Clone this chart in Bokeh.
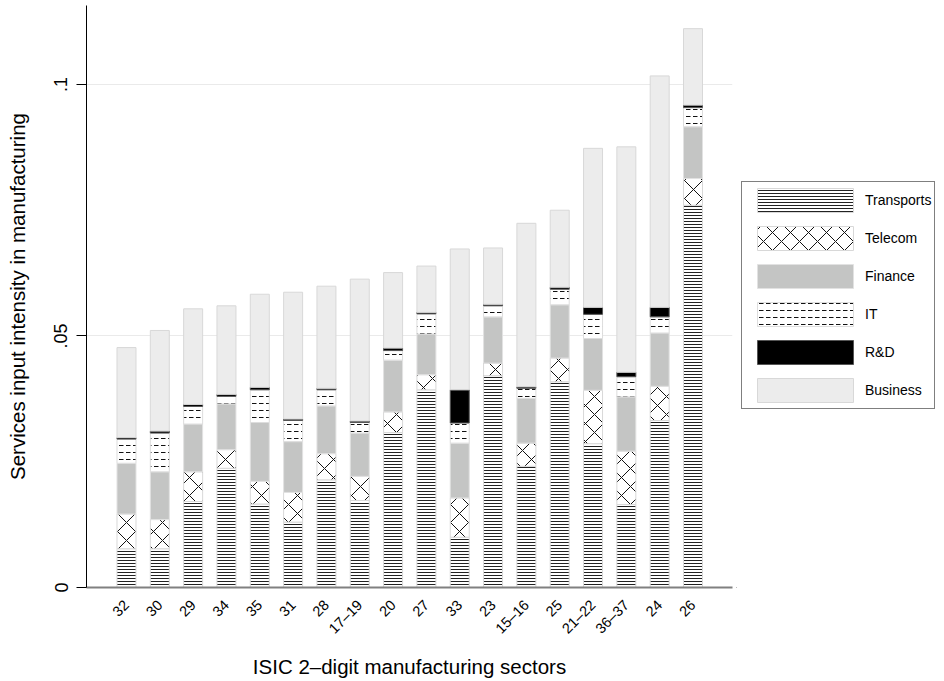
import math
from bokeh.plotting import figure
from bokeh.models import ColumnDataSource, FixedTicker, CustomJSTickFormatter, Range1d, Legend
from bokeh.layouts import row
from bokeh.embed import file_html
from bokeh.resources import INLINE

# ---- data ----
sectors = ["32", "30", "29", "34", "35", "31", "28", "17\u201319", "20", "27",
           "33", "23", "15\u201316", "25", "21\u201322", "36\u201337", "24", "26"]
transports = [0.0077, 0.0077, 0.0171, 0.0237, 0.0166, 0.0130, 0.0214, 0.0173, 0.0308, 0.0393,
              0.0100, 0.0421, 0.0241, 0.0409, 0.0286, 0.0165, 0.0332, 0.0760]
telecom = [0.0069, 0.0058, 0.0059, 0.0037, 0.0045, 0.0059, 0.0052, 0.0048, 0.0041, 0.0030,
           0.0078, 0.0025, 0.0046, 0.0047, 0.0106, 0.0106, 0.0068, 0.0053]
finance = [0.0101, 0.0095, 0.0095, 0.0091, 0.0117, 0.0101, 0.0095, 0.0086, 0.0103, 0.0081,
           0.0109, 0.0092, 0.0089, 0.0106, 0.0103, 0.0108, 0.0106, 0.0103]
it = [0.0048, 0.0077, 0.0035, 0.0015, 0.0065, 0.0042, 0.0032, 0.0021, 0.0019, 0.0040,
      0.0040, 0.0022, 0.0020, 0.0031, 0.0048, 0.0040, 0.0032, 0.0038]
rnd = [0.0003, 0.0004, 0.0004, 0.0004, 0.0005, 0.0003, 0.0003, 0.0003, 0.0005, 0.0003,
       0.0066, 0.0003, 0.0003, 0.0004, 0.0014, 0.0009, 0.0019, 0.0005]
business = [0.0179, 0.0200, 0.0190, 0.0176, 0.0185, 0.0252, 0.0203, 0.0282, 0.0150, 0.0092,
            0.0280, 0.0112, 0.0325, 0.0153, 0.0316, 0.0448, 0.0460, 0.0152]
series_names = ["Transports", "Telecom", "Finance", "IT", "R&D", "Business"]
y_ticks = [0, 0.05, 0.1]

FONT = "Liberation Sans"
positions = list(range(1, len(sectors) + 1))

# per-series styles
fills = ["white", "white", "#c4c5c4", "white", "black", "#ececec"]
hatches = ["horizontal_line", "diagonal_cross", " ", "horizontal_dash", " ", " "]
hatch_colors = ["#222222", "#111111", "black", "#111111", "black", "black"]
hatch_scales = [3, 18, 4, 7, 4, 4]
outlines = ["#d8d8d8", "#d8d8d8", "#e2e2e2", "#dddddd", "#555555", "#d8d8d8"]

source = ColumnDataSource(dict(
    x=positions,
    Transports=transports, Telecom=telecom, Finance=finance,
    IT=it, RD=rnd, Business=business,
))

p = figure(width=736, height=681, output_backend="svg", toolbar_location=None,
           x_range=Range1d(-0.2, 19.185), y_range=Range1d(0, 0.1157),
           min_border_left=86, min_border_right=4, min_border_top=5, min_border_bottom=93)
p.outline_line_color = None
p.background_fill_color = "white"
p.border_fill_color = "white"

p.vbar_stack(
    ["Transports", "Telecom", "Finance", "IT", "RD", "Business"],
    x="x", width=0.57, source=source,
    fill_color=fills, hatch_pattern=hatches, hatch_color=hatch_colors,
    hatch_scale=hatch_scales, hatch_weight=1,
    line_color=outlines, line_width=1,
)

# x axis
p.xaxis.ticker = FixedTicker(ticks=positions)
p.xaxis.major_label_overrides = {i: s for i, s in zip(positions, sectors)}
p.xaxis.major_label_orientation = math.pi / 4
p.xaxis.major_label_text_font = FONT
p.xaxis.major_label_text_font_size = "14.5px"
p.xaxis.major_label_text_color = "black"
p.xaxis.major_tick_line_color = None
p.xaxis.minor_tick_line_color = None
p.xaxis.axis_line_color = "#808080"
p.xaxis.axis_line_width = 2
p.xaxis.major_label_standoff = 9
p.xaxis.axis_label = "ISIC 2\u2013digit manufacturing sectors"
p.xaxis.axis_label_text_font = FONT
p.xaxis.axis_label_text_font_size = "20.5px"
p.xaxis.axis_label_text_font_style = "normal"
p.xaxis.axis_label_text_color = "black"
p.xaxis.axis_label_standoff = 10

# y axis
p.yaxis.ticker = FixedTicker(ticks=y_ticks)
p.yaxis.formatter = CustomJSTickFormatter(code="""
if (tick == 0) { return "0"; }
var s = tick.toFixed(2).replace(/0+$/, "");
return s.replace(/^0/, "");
""")
p.yaxis.major_label_orientation = "vertical"
p.yaxis.major_label_text_font = FONT
p.yaxis.major_label_text_font_size = "18px"
p.yaxis.major_label_text_color = "black"
p.yaxis.major_tick_out = 10
p.yaxis.major_tick_in = 0
p.yaxis.major_tick_line_color = "black"
p.yaxis.minor_tick_line_color = None
p.yaxis.axis_line_color = "black"
p.yaxis.major_label_standoff = 9
p.yaxis.axis_label = "Services input intensity in manufacturing"
p.yaxis.axis_label_text_font = FONT
p.yaxis.axis_label_text_font_size = "20.5px"
p.yaxis.axis_label_text_font_style = "normal"
p.yaxis.axis_label_text_color = "black"
p.yaxis.axis_label_standoff = 23

p.xgrid.grid_line_color = None
p.ygrid.grid_line_color = "#eaeaea"
p.ygrid.grid_line_width = 1

# legend panel (separate figure on the right, with key-only renderers kept off-range)
p2 = figure(width=208, height=681, output_backend="svg", toolbar_location=None,
            x_range=Range1d(0, 1), y_range=Range1d(0, 1),
            x_axis_location=None, y_axis_location=None,
            min_border_left=0, min_border_right=0, min_border_top=0, min_border_bottom=0)
p2.outline_line_color = None
p2.xgrid.grid_line_color = None
p2.ygrid.grid_line_color = None
key_source = ColumnDataSource(dict(x=[-10.0], top=[-10.0]))
keys = []
for name, fc, hp, hc, hs, lc in zip(series_names, fills, hatches, hatch_colors, hatch_scales, outlines):
    r = p2.vbar(x="x", top="top", bottom=-11.0, width=0.5, source=key_source,
                fill_color=fc, hatch_pattern=hp, hatch_color=hc, hatch_scale=hs,
                hatch_weight=1, line_color=lc, line_width=1)
    keys.append((name, [r]))

legend = Legend(items=keys, location=(5, 178))
legend.glyph_width = 120
legend.glyph_height = 30
legend.spacing = 8
legend.padding = 3
legend.margin = 0
legend.label_standoff = 0
legend.label_text_font = FONT
legend.label_text_font_size = "14px"
legend.label_text_color = "black"
legend.border_line_color = "black"
legend.border_line_width = 1
legend.background_fill_alpha = 1
p2.add_layout(legend)

layout = row(p, p2)
open("out.html", "w").write(file_html(layout, INLINE))
